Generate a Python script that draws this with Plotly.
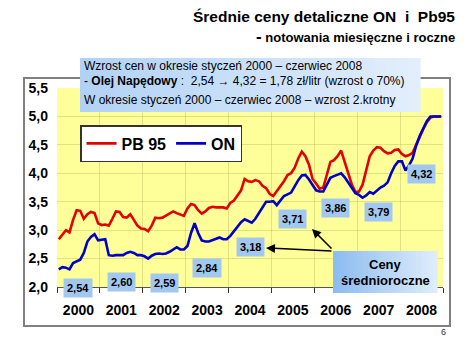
import plotly.graph_objects as go

# ---------------- data ----------------
years = [2000, 2001, 2002, 2003, 2004, 2005, 2006, 2007, 2008]
year_labels = ["2000", "2001", "2002", "2003", "2004", "2005", "2006", "2007", "2008"]
on_yearly_avg = [2.54, 2.60, 2.59, 2.84, 3.18, 3.71, 3.86, 3.79, 4.32]

# monthly prices, Jan 2000 .. Dec 2008 (zł/litr)
pb95_monthly = [
    2.84, 2.92, 3.00, 2.96, 3.18, 3.35, 3.34, 3.20, 3.28, 3.32, 3.30, 3.12,
    3.09, 3.10, 3.08, 3.20, 3.33, 3.32, 3.23, 3.22, 3.28, 3.18, 3.08, 3.03,
    3.02, 2.98, 3.08, 3.22, 3.21, 3.22, 3.26, 3.29, 3.33, 3.30, 3.27, 3.25,
    3.38, 3.46, 3.44, 3.35, 3.29, 3.33, 3.39, 3.41, 3.40, 3.40, 3.40, 3.38,
    3.48, 3.52, 3.60, 3.70, 3.90, 3.86, 3.85, 3.88, 3.86, 3.78, 3.74, 3.64,
    3.60, 3.68, 3.78, 3.86, 3.97, 4.00, 4.10, 4.26, 4.38, 4.30, 4.15, 3.90,
    3.82, 3.73, 3.75, 4.00, 4.20, 4.23, 4.30, 4.40, 4.20, 4.00, 3.80, 3.67,
    3.68, 3.80, 4.05, 4.30, 4.40, 4.46, 4.45, 4.39, 4.35, 4.36, 4.41, 4.42,
    4.34, 4.30, 4.32, 4.36, 4.50, 4.65, 4.78, 4.90, 4.98, 5.00, 5.00, 5.00,
]
on_monthly = [
    2.31, 2.35, 2.34, 2.31, 2.42, 2.45, 2.48, 2.60, 2.80, 2.88, 2.93, 2.82,
    2.83, 2.84, 2.56, 2.55, 2.56, 2.56, 2.56, 2.60, 2.62, 2.60, 2.56, 2.56,
    2.54, 2.50, 2.55, 2.58, 2.59, 2.58, 2.59, 2.62, 2.66, 2.70, 2.66, 2.66,
    2.72, 2.95, 3.12, 2.95, 2.82, 2.80, 2.80, 2.82, 2.84, 2.87, 2.84, 2.84,
    2.90, 2.98, 3.05, 3.14, 3.19, 3.16, 3.13, 3.20, 3.30, 3.40, 3.50, 3.50,
    3.51, 3.44, 3.52, 3.60, 3.63, 3.66, 3.77, 3.88, 3.96, 3.97, 3.89, 3.80,
    3.70, 3.68, 3.68, 3.80, 3.92, 3.95, 3.98, 4.00, 3.93, 3.83, 3.73, 3.65,
    3.62, 3.57, 3.61, 3.67, 3.64, 3.70, 3.75, 3.78, 3.84, 4.00, 4.13, 4.21,
    4.21, 4.05, 4.14, 4.26, 4.49, 4.66, 4.80, 4.92, 5.00, 5.00, 5.00, 5.00,
]
# vertical pixel position of each yearly label box (page px)
avg_label_y_px = [288, 282, 283, 268, 247, 219, 208, 212, 174]

W, H = 474, 355
ML, MR, MT, MB = 57, 31, 88, 68
PW, PH = W - ML - MR, H - MT - MB
FONT = "Liberation Sans, Arial, sans-serif"


def px(x):
    # page pixel -> paper (plot-area) fraction
    return (x - ML) / PW


def py(y):
    return (H - MB - y) / PH


months = list(range(len(pb95_monthly)))
year_centers = [12 * k + 5.5 for k in range(len(years))]

fig = go.Figure()
fig.add_trace(go.Scatter(x=months, y=pb95_monthly, mode="lines", name="PB 95",
                         line=dict(color="#e30000", width=2.6)))
fig.add_trace(go.Scatter(x=months, y=on_monthly, mode="lines", name="ON",
                         line=dict(color="#0000c8", width=2.6)))

shapes = []
# outer white frame
shapes.append(dict(type="rect", xref="paper", yref="paper", layer="below",
                   x0=px(24), x1=px(450), y0=py(326), y1=py(78),
                   fillcolor="white", line=dict(color="#808080", width=2)))
# yellow plot area
shapes.append(dict(type="rect", xref="x domain", yref="y domain", layer="below",
                   x0=0, x1=1, y0=0, y1=1, fillcolor="#ffff99", line=dict(width=0)))


def lerp(c0, c1, t):
    return "rgb(%d,%d,%d)" % tuple(round(a + (b - a) * t) for a, b in zip(c0, c1))


def grad_rect(x0, x1, y0, y1, c0, c1, n=30):
    out = []
    w = (x1 - x0) / n
    for k in range(n):
        out.append(dict(type="rect", xref="paper", yref="paper", layer="above",
                        x0=px(x0 + k * w), x1=px(x0 + (k + 1) * w + 0.6),
                        y0=py(y1), y1=py(y0),
                        fillcolor=lerp(c0, c1, k / (n - 1)), line=dict(width=0)))
    return out


shapes += grad_rect(80, 420, 58, 112, (178, 210, 245), (226, 238, 252))
shapes += grad_rect(333, 437, 251, 293, (140, 188, 240), (222, 236, 252))

annotations = []
# titles
annotations.append(dict(xref="paper", yref="paper", x=px(457), y=py(17), xanchor="right",
                        yanchor="middle", showarrow=False,
                        text="<b>Średnie ceny detaliczne ON\u00a0 i\u00a0 Pb95</b>",
                        font=dict(size=15.5, color="black", family=FONT)))
annotations.append(dict(xref="paper", yref="paper", x=px(457), y=py(37), xanchor="right",
                        yanchor="middle", showarrow=False,
                        text="<b><span style='font-size:17px'>-</span> notowania miesięczne i roczne</b>",
                        font=dict(size=13, color="black", family=FONT)))
# info box text
info_lines = [
    ("Wzrost cen w okresie styczeń 2000 – czerwiec 2008", 66),
    ("- <b>Olej Napędowy</b> :\u00a0 2,54 → 4,32 = 1,78 zł/litr (wzrost o 70%)", 81),
    ("W okresie styczeń 2000 – czerwiec 2008 – wzrost 2.krotny", 100),
]
for txt, yy in info_lines:
    annotations.append(dict(xref="paper", yref="paper", x=px(82), y=py(yy), xanchor="left",
                            yanchor="middle", showarrow=False, text=txt,
                            font=dict(size=12, color="black", family=FONT)))
# yearly average labels
for xc, v, yy in zip(year_centers, on_yearly_avg, avg_label_y_px):
    annotations.append(dict(xref="x", yref="paper", x=xc, y=py(yy), xanchor="center",
                            yanchor="middle", showarrow=False,
                            text="<b>%s</b>" % ("%.2f" % v).replace(".", ","),
                            font=dict(size=11, color="black", family=FONT),
                            bgcolor="#a3c8f0", borderpad=3))
# arrows
annotations.append(dict(xref="paper", yref="paper", x=px(266), y=py(248), ax=67, ay=3,
                        text="", showarrow=True, arrowhead=2, arrowsize=1.2,
                        arrowwidth=1.5, arrowcolor="black"))
annotations.append(dict(xref="paper", yref="paper", x=px(312), y=py(229), ax=21, ay=21,
                        text="", showarrow=True, arrowhead=2, arrowsize=1.2,
                        arrowwidth=1.5, arrowcolor="black"))
# Ceny średnioroczne
annotations.append(dict(xref="paper", yref="paper", x=px(385), y=py(264), xanchor="center",
                        yanchor="middle", showarrow=False, text="<b>Ceny</b>",
                        font=dict(size=13, color="black", family=FONT)))
annotations.append(dict(xref="paper", yref="paper", x=px(385), y=py(280), xanchor="center",
                        yanchor="middle", showarrow=False, text="<b>średnioroczne</b>",
                        font=dict(size=13, color="black", family=FONT)))
# page number
annotations.append(dict(xref="paper", yref="paper", x=px(443), y=py(332), xanchor="center",
                        yanchor="middle", showarrow=False, text="6",
                        font=dict(size=9, color="#333", family=FONT)))

grid_col = "rgba(175,170,90,0.35)"
fig.update_layout(
    width=W, height=H, autosize=False,
    margin=dict(l=ML, r=MR, t=MT, b=MB, pad=0),
    paper_bgcolor="white", plot_bgcolor="rgba(0,0,0,0)",
    separators=",.",
    font=dict(family=FONT, color="black"),
    shapes=shapes, annotations=annotations,
    showlegend=True,
    legend=dict(orientation="h", x=px(80), y=py(125), xanchor="left", yanchor="top",
                bgcolor="white", bordercolor="#333", borderwidth=1.5,
                font=dict(size=16, family=FONT, weight="bold", color="black"),
                itemwidth=30),
    xaxis=dict(range=[-0.5, len(months) - 0.5], tickmode="array", tickvals=year_centers,
               ticktext=year_labels, ticks="", showgrid=False, zeroline=False,
               tickfont=dict(size=14, family=FONT, weight="bold", color="black"),
               ticklabelstandoff=10, showline=True, linecolor="#555", linewidth=1,
               minor=dict(tick0=-0.5, dtick=12, ticks="outside", ticklen=5,
                          tickcolor="#333", showgrid=True, gridcolor=grid_col, gridwidth=1)),
    yaxis=dict(range=[2.0, 5.5], tickmode="linear", tick0=2.0, dtick=0.5, tickformat=".1f",
               showgrid=True, gridcolor=grid_col, gridwidth=1, zeroline=False,
               ticks="", ticklabelstandoff=8,
               tickfont=dict(size=14, family=FONT, weight="bold", color="black")),
)

fig.write_html("out.html", config={"displayModeBar": False},
               post_script="document.body.style.margin='0';")
